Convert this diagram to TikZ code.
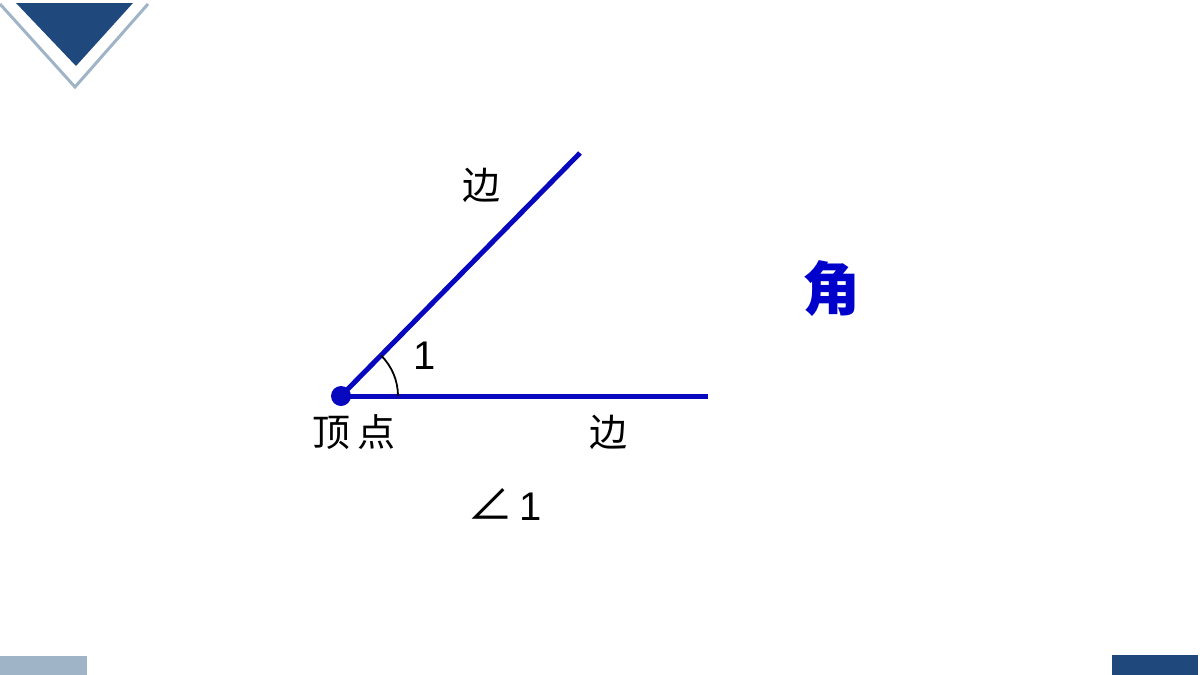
\documentclass[tikz,border=0pt]{standalone}
\usepackage{fontspec}
\setmainfont{Liberation Sans}
\newfontfamily\cjk{Noto Sans CJK SC}
\definecolor{rayblue}{RGB}{8,8,190}
\definecolor{darkblue}{RGB}{31,73,125}
\definecolor{lightblue}{RGB}{160,180,200}
\definecolor{charblue}{RGB}{0,0,204}
\begin{document}
\begin{tikzpicture}[x=1pt,y=-1pt,
  ray/.style={line width=5pt,draw=rayblue},
  cjklabel/.style={font=\cjk\fontsize{38}{42}\selectfont,text=black,inner sep=0pt},
  numlabel/.style={font=\fontsize{40}{44}\selectfont,inner sep=0pt}]
\useasboundingbox (0,0) rectangle (1200,675);
% decorations
\fill[darkblue] (16,3) -- (133,3) -- (76,66) -- cycle;
\draw[lightblue,line width=3pt] (0,4) -- (75,87) -- (148,4);
\fill[lightblue] (0,656) rectangle (87,675);
\fill[darkblue] (1112,655) rectangle (1198,675);
% angle
\coordinate (V) at (341,396);
\coordinate (A) at (580,153);
\coordinate (B) at (708,396);
\draw[ray] (V) -- (A);
\draw[ray] (V) -- (B);
\draw[black,line width=1.8pt] ([shift={(0:57)}]V) arc[start angle=0,end angle=-45.5,radius=57];
\fill[rayblue] (V) circle[radius=10];
\node[numlabel] (one) at (425,356) {1};
\node[cjklabel] (vtx) at (354,432) {顶\hspace{8pt}点};
\node[cjklabel] (s1) at (481,185) {边};
\node[cjklabel] (s2) at (608,432) {边};
\node[font=\cjk\bfseries\fontsize{58}{62}\selectfont,text=charblue,inner sep=0pt] (jiao) at (831,289) {角};
\node[numlabel] (ang) at (505,505) {{\cjk\fontsize{46}{50}\selectfont ∠}\hspace{6pt}1};
\end{tikzpicture}
\end{document}
